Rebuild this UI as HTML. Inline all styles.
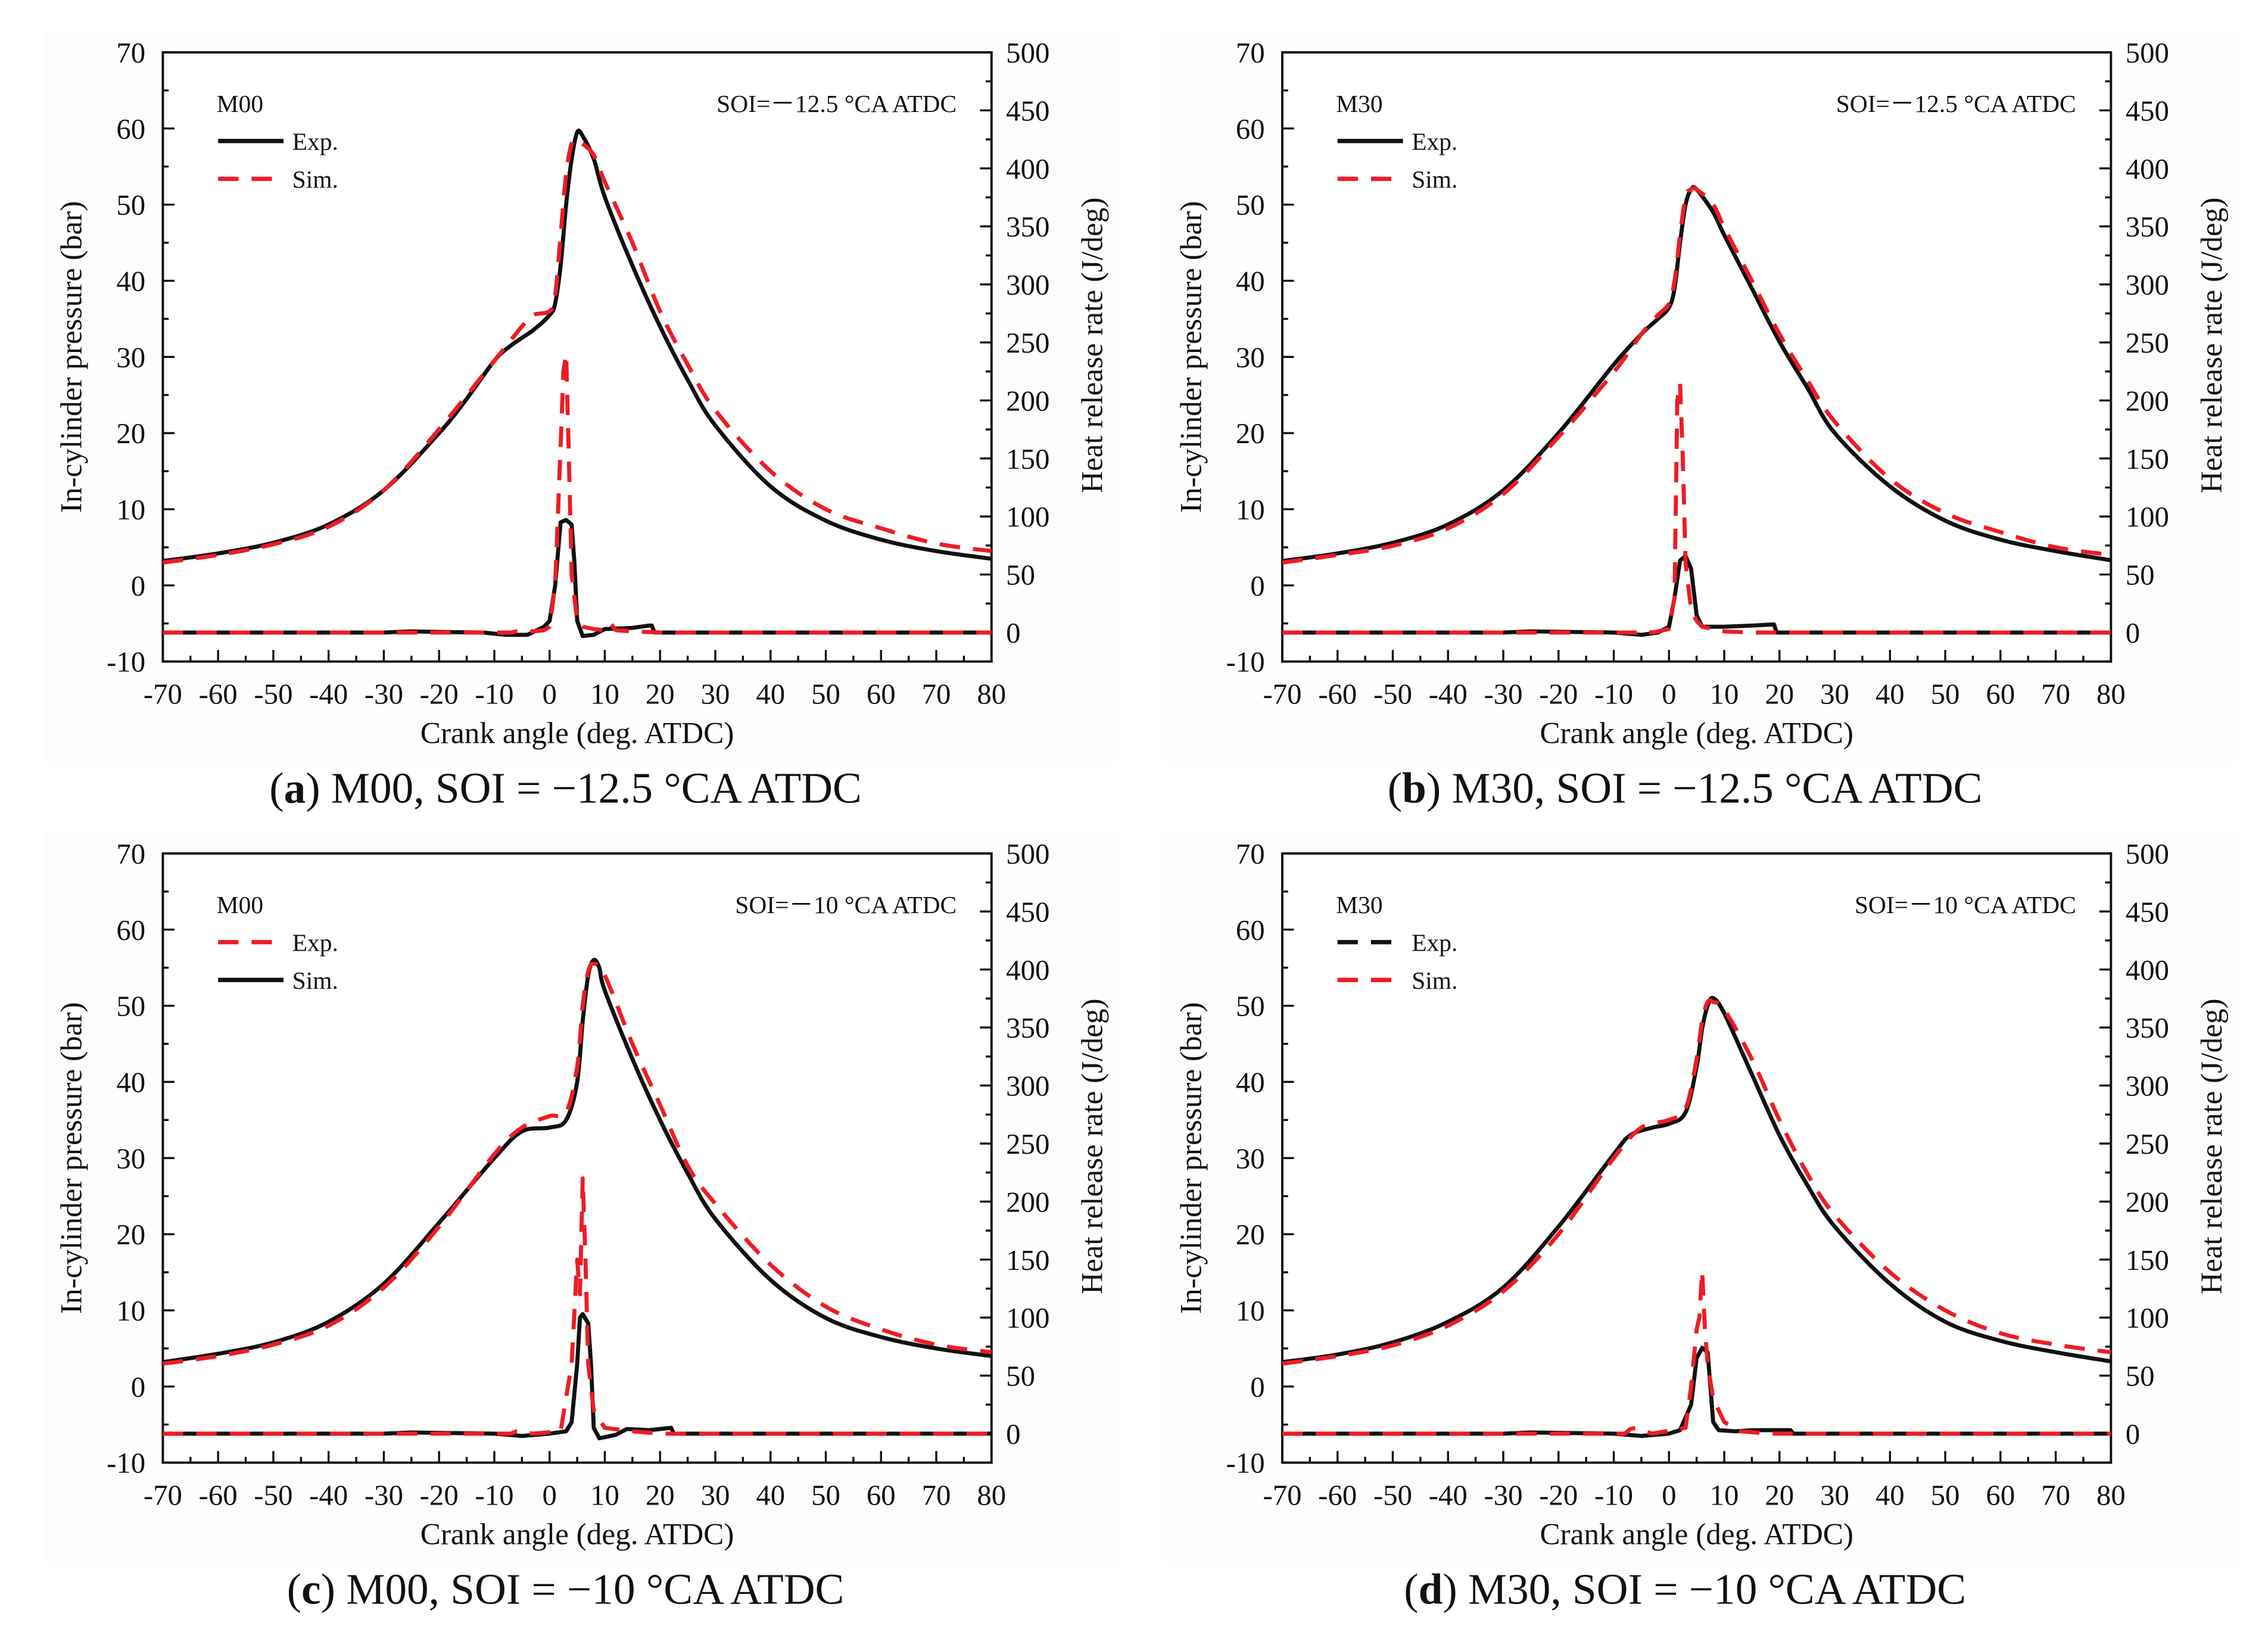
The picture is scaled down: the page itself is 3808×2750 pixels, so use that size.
<!DOCTYPE html>
<html><head><meta charset="utf-8"><style>
html,body{margin:0;padding:0;background:#fff}
svg{display:block}
text{font-family:"Liberation Serif",serif;fill:#111}
</style></head><body>
<svg id="fig" xmlns="http://www.w3.org/2000/svg" width="3808" height="2750" viewBox="0 0 1560 1126.6">
<rect x="0" y="0" width="1560" height="1126.6" fill="#fff"/>
<rect x="30" y="20" width="740" height="505" fill="#fdfdfd"/>
<rect x="800" y="20" width="740" height="505" fill="#fdfdfd"/>
<rect x="30" y="571" width="740" height="505" fill="#fdfdfd"/>
<rect x="800" y="571" width="740" height="505" fill="#fdfdfd"/>
</svg>
<script>
// ---- data ----
const aExpP_x=[-70,-60,-50,-40,-30,-20,-15,-10,-7,-3,0,1,2,3,4,5,6,8,10,15,20,25,30,40,50,60,70,80];
const aExpP_y=[3.2,4.2,5.6,8,12.5,20,24.5,29.5,31.5,33.5,35.5,37,42,50,56,59.5,59,56,51,42,34,27,21,13,8.5,6,4.5,3.5];
const aSimP_x=[-70,-60,-50,-40,-30,-20,-10,-5,-3,0,1,2,3,4,5,6,8,10,15,20,25,30,40,50,60,70,80];
const aSimP_y=[3,4,5.4,7.7,12.5,20.5,29.5,34,35.5,36,38,46,54,58,58.5,58,56.5,53,45,36,29,23,15,10,7.5,5.5,4.5];
const aExpH_x=[-70,-30,-25,-20,-12,-8,-4,-1,0,1,2,3,4,4.5,5,6,8,10,15,18,18.5,19,80];
const aExpH_y=[0,0,1,0.5,0,-2,-2,5,10,40,95,97,93,60,10,-3,-2,3,4,6,6,0,0];
const aSimH_x=[-70,-7,-5,-3,-1,0,1,2,2.5,3,3.5,4,5,6,8,10,11,12,15,20,80];
const aSimH_y=[0,0,2,1,2,5,40,160,225,240,150,50,10,5,3,2,8,2,1,0,0];

const bExpP_x=[-70,-60,-50,-40,-30,-20,-10,-5,-2,0,1,2,3,4,5,8,10,15,20,25,30,40,50,60,70,80];
const bExpP_y=[3.2,4.2,5.6,8,12.5,20,29,33,35,36.5,39,45,50,52,52,49,46,39,32,26,20,13,8.5,6,4.5,3.3];
const bSimP_x=[-70,-60,-50,-40,-30,-20,-10,-5,-2,0,1,2,3,4,5,8,10,15,20,25,30,40,50,60,70,80];
const bSimP_y=[3,4,5.2,7.5,12,19.5,28,33,35.5,37,40,46,51,52,52,50,47,40,33,27,21.5,14,9.5,7,5,4];
const bExpH_x=[-70,-30,-25,-10,-5,-2,0,1,2,3,4,5,6,8,10,15,19,19.5,80];
const bExpH_y=[0,0,1,0,-2,0,5,30,62,66,55,15,5,5,5,6,7,0,0];
const bSimH_x=[-70,-6,-5,-3,0,1,1.5,2,2.5,3,4,5,6,8,10,15,80];
const bSimH_y=[0,0,2,0,3,30,200,215,150,60,20,10,5,3,1,0,0];

const cExpP_x=[-70,-60,-50,-40,-30,-20,-10,-5,0,3,5,6,7,8,10,15,20,25,30,40,50,60,70,80];
const cExpP_y=[3,4,5.5,8,13,21,30.5,34,35.5,36,42,50,54.5,55.5,54,45,37,29,24,16,10.5,7.5,5.5,4.5];
const cSimP_x=[-70,-60,-50,-40,-30,-20,-10,-5,0,3,5,6,7,8,9,10,15,20,25,30,40,50,60,70,80];
const cSimP_y=[3.2,4.3,5.8,8.5,13.5,21.5,30,33.5,34,35,40,48,54,56,55,52,43,35,28,22,14,9,6.5,5,4];
const cExpH_x=[-70,-7,-6,-5,-3,2,4,5,5.5,6,6.5,7,8,10,15,20,80];
const cExpH_y=[0,0,2,2,0,2,60,150,120,220,150,60,20,5,2,0,0];
const cSimH_x=[-70,-30,-25,-10,-5,0,3,4,5,5.5,6,7,7.5,8,9,12,14,18,22,22.5,80];
const cSimH_y=[0,0,1,0,-2,0,2,10,60,100,103,95,60,5,-4,-1,4,3,5,0,0];

const dExpP_x=[-70,-60,-50,-40,-30,-20,-10,-7,-3,0,3,5,6,7,8,10,15,20,25,30,40,50,60,70,80];
const dExpP_y=[3.2,4.2,5.8,8.5,13,21,30.5,33,34,34.5,36,42,47,50,51,49,41,33,26.5,21,13.5,8.5,6,4.5,3.3];
const dSimP_x=[-70,-60,-50,-40,-30,-20,-10,-5,0,3,5,6,7,8,10,15,20,25,30,40,50,60,70,80];
const dSimP_y=[3,4,5.4,8,12.5,20,30,34,35,36.5,43,48,50.5,50.5,49.5,43,35,28,22.5,15,10,7,5.5,4.5];
const dExpH_x=[-70,-30,-25,-10,-5,0,2,4,5,6,7,7.5,8,9,12,15,22,22.5,80];
const dExpH_y=[0,0,1,0,-2,0,3,25,65,74,70,40,10,3,2,3,3,0,0];
const dSimH_x=[-70,-8,-7,-6,-5,-3,3,4,5,5.5,6,6.5,7,8,10,13,18,80];
const dSimH_y=[0,0,4,5,3,0,5,40,90,100,140,90,60,30,10,2,0,0];

const xTicks=[-70,-60,-50,-40,-30,-20,-10,0,10,20,30,40,50,60,70,80];
const yTicksL=[-10,0,10,20,30,40,50,60,70];
const yTicksR=[0,50,100,150,200,250,300,350,400,450,500];

// ---- drawing ----
const NS="http://www.w3.org/2000/svg";
const svg=document.getElementById('fig');
function mk(tag,attrs,parent){const e=document.createElementNS(NS,tag);for(const k in attrs)e.setAttribute(k,attrs[k]);(parent||svg).appendChild(e);return e;}
const RED="#ee1c24", BLK="#111";
const W=570,H=419;

function smoothPath(P){
  let d=`M${P[0][0].toFixed(2)},${P[0][1].toFixed(2)}`;
  for(let i=0;i<P.length-1;i++){
    const p0=P[Math.max(0,i-1)],p1=P[i],p2=P[i+1],p3=P[Math.min(P.length-1,i+2)];
    const c1x=p1[0]+(p2[0]-p0[0])/6,c1y=p1[1]+(p2[1]-p0[1])/6;
    const c2x=p2[0]-(p3[0]-p1[0])/6,c2y=p2[1]-(p3[1]-p1[1])/6;
    d+=`C${c1x.toFixed(2)},${c1y.toFixed(2)} ${c2x.toFixed(2)},${c2y.toFixed(2)} ${p2[0].toFixed(2)},${p2[1].toFixed(2)}`;
  }
  return d;
}

const panels=[
 {id:'a',x0:112,y0:36,mat:'M00',soi:'SOI=－12.5 °CA ATDC',cap:', M00, SOI = −12.5 °CA ATDC',
  series:[[aExpP_x,aExpP_y,'L',BLK,false],[aExpH_x,aExpH_y,'R',BLK,false],[aSimP_x,aSimP_y,'L',RED,true],[aSimH_x,aSimH_y,'R',RED,true]],
  leg:[['Exp.',BLK,false],['Sim.',RED,true]]},
 {id:'b',x0:882,y0:36,mat:'M30',soi:'SOI=－12.5 °CA ATDC',cap:', M30, SOI = −12.5 °CA ATDC',
  series:[[bExpP_x,bExpP_y,'L',BLK,false],[bExpH_x,bExpH_y,'R',BLK,false],[bSimP_x,bSimP_y,'L',RED,true],[bSimH_x,bSimH_y,'R',RED,true]],
  leg:[['Exp.',BLK,false],['Sim.',RED,true]]},
 {id:'c',x0:112,y0:587,mat:'M00',soi:'SOI=－10 °CA ATDC',cap:', M00, SOI = −10 °CA ATDC',
  series:[[cSimP_x,cSimP_y,'L',BLK,false],[cSimH_x,cSimH_y,'R',BLK,false],[cExpP_x,cExpP_y,'L',RED,true],[cExpH_x,cExpH_y,'R',RED,true]],
  leg:[['Exp.',RED,true],['Sim.',BLK,false]]},
 {id:'d',x0:882,y0:587,mat:'M30',soi:'SOI=－10 °CA ATDC',cap:', M30, SOI = −10 °CA ATDC',
  series:[[dExpP_x,dExpP_y,'L',BLK,false],[dExpH_x,dExpH_y,'R',BLK,false],[dSimP_x,dSimP_y,'L',RED,true],[dSimH_x,dSimH_y,'R',RED,true]],
  leg:[['Exp.',BLK,true],['Sim.',RED,true]]}
];

panels.forEach(p=>{
  const g=mk('g',{});
  
  
  const sx=v=>p.x0+(v+70)/150*W;
  const syL=v=>p.y0+(70-v)/80*H;
  const syR=v=>p.y0+(500-v)/525*H;
  const fr=mk('rect',{x:p.x0,y:p.y0,width:W,height:H,fill:'#fff',stroke:BLK,'stroke-width':1.6},g);
  
  
  let d='';
  for(let v=-70;v<=80;v+=5){const x=sx(v);const L=(v%10===0)?8:4;d+=`M${x},${p.y0+H}v${-L}`;}
  for(let v=-10;v<=70;v+=5){const y=syL(v);const L=(v%10===0)?8:4;d+=`M${p.x0},${y}h${L}`;}
  for(let v=-25;v<=500;v+=25){const y=syR(v);const L=(v%50===0)?8:4;d+=`M${p.x0+W},${y}h${-L}`;}
  const tk=mk('path',{d:d,stroke:BLK,'stroke-width':1.4,fill:'none'},g);
  
  
  xTicks.forEach(v=>{const t=mk('text',{x:sx(v),y:p.y0+H+29,'font-size':20,'text-anchor':'middle'},g);t.textContent=v;
    
    });
  yTicksL.forEach(v=>{const t=mk('text',{x:p.x0-12,y:syL(v)+7,'font-size':20,'text-anchor':'end'},g);t.textContent=v;
    
    });
  yTicksR.forEach(v=>{const t=mk('text',{x:p.x0+W+10,y:syR(v)+7,'font-size':20,'text-anchor':'start'},g);t.textContent=v;
    
    });
  let t=mk('text',{x:p.x0+W/2,y:p.y0+H+56,'font-size':21,'text-anchor':'middle'},g);t.textContent='Crank angle (deg. ATDC)';
  
  
  const lx=p.x0-56, ly=p.y0+H/2;
  t=mk('text',{x:lx,y:ly,'font-size':21,'text-anchor':'middle',transform:`rotate(-90 ${lx} ${ly})`},g);t.textContent='In-cylinder pressure (bar)';
  
  
  const rx=p.x0+W+76, ry=p.y0+H/2-8;
  t=mk('text',{x:rx,y:ry,'font-size':21,'text-anchor':'middle',transform:`rotate(-90 ${rx} ${ry})`},g);t.textContent='Heat release rate (J/deg)';
  
  
  p.series.forEach((s,i)=>{
    const xs=s[0],ys=s[1],sy=s[2]==='L'?syL:syR;
    const P=xs.map((x,k)=>[sx(x),sy(ys[k])]);
    let el;
    const a={fill:'none',stroke:s[3],'stroke-width':2.8,'stroke-linejoin':'round'};
    if(s[4])a['stroke-dasharray']='14,9';
    if(s[2]==='L'){a.d=smoothPath(P);el=mk('path',a,g);}
    else{a.points=P.map(q=>q[0].toFixed(2)+','+q[1].toFixed(2)).join(' ');el=mk('polyline',a,g);}
    
    
  });
  t=mk('text',{x:p.x0+37,y:p.y0+41,'font-size':17},g);t.textContent=p.mat;
  
  
  p.leg.forEach((e,i)=>{
    const y=p.y0+61+i*26;
    const a={x1:p.x0+38,x2:p.x0+83,y1:y,y2:y,stroke:e[1],'stroke-width':3};
    if(e[2])a['stroke-dasharray']='14,9';
    const ln=mk('line',a,g);
    
    
    const tt=mk('text',{x:p.x0+89,y:y+6,'font-size':17},g);tt.textContent=e[0];
    
    
  });
  t=mk('text',{x:p.x0+W-24,y:p.y0+41,'font-size':17,'text-anchor':'end'},g);t.textContent=p.soi;
  
  
  const cap=mk('text',{x:p.x0+W/2-8,y:p.y0+H+97,'font-size':30,'text-anchor':'middle'},g);
  
  
  const s1=mk('tspan',{},cap);s1.textContent='(';
  const s2=mk('tspan',{'font-weight':'bold'},cap);s2.textContent=p.id;
  const s3=mk('tspan',{},cap);s3.textContent=')'+p.cap.slice(1);
});
</script>
</body></html>
